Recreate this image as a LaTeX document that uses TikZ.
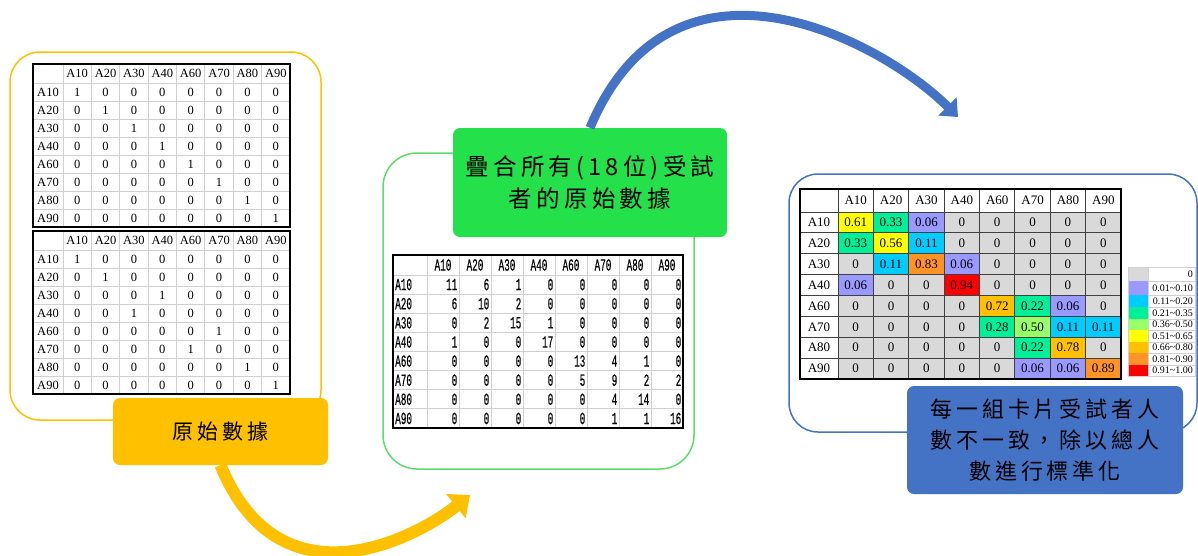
\documentclass[tikz,border=0pt]{standalone}
\usepackage{fontspec}
\setmainfont{Liberation Serif}
\newfontfamily\cjk[LetterSpace=18]{Noto Sans CJK TC}
\newfontfamily\tmono[FakeStretch=0.55,FakeBold=0.25]{Liberation Mono}
\usetikzlibrary{arrows.meta}
\definecolor{cgold}{HTML}{FFC000}
\definecolor{cgrn}{HTML}{24E04B}
\definecolor{cblu}{HTML}{4472C4}
\definecolor{cgray}{HTML}{D9D9D9}
\definecolor{cyel}{HTML}{FFFF00}
\definecolor{cspr}{HTML}{00F09A}
\definecolor{cpur}{HTML}{9999FF}
\definecolor{csky}{HTML}{00CCFF}
\definecolor{cora}{HTML}{FF9326}
\definecolor{cred}{HTML}{FF0000}
\definecolor{clgr}{HTML}{99FF66}
\definecolor{cgrid}{HTML}{D0D0D0}
\definecolor{goutline}{HTML}{5EDC6A}
\newcommand\lefttab[3]{%
\begin{scope}[shift={(0,#2)}]
\foreach \i in {0,...,8}{\draw[lgrid] ({63+\i*28.375},0) -- ({63+\i*28.375},163);}
\foreach \j in {0,...,8}{\draw[lgrid] (33,{19+\j*18}) -- (290,{19+\j*18});}
\draw[tborder] (33,0) rectangle (290,163);
\foreach \h [count=\c] in {A10,A20,A30,A40,A60,A70,A80,A90}{\node[lt] (#1h\c) at ({63+(\c-0.5)*28.375},9.5) {\h};}
\foreach \rl/\vals [count=\r] in {#3}{%
  \node[lt] (#1r\r) at (48,{19+(\r-0.5)*18}) {\rl};
  \foreach \v [count=\c] in \vals {\node[lt] (#1c\r-\c) at ({63+(\c-0.5)*28.375},{19+(\r-0.5)*18}) {\v};}
}
\end{scope}}
\begin{document}
\begin{tikzpicture}[x=1pt,y=-1pt,
  lt/.style={inner sep=0pt,font=\fontsize{12.5}{12.5}\selectfont},
  mt/.style={inner sep=0pt,font=\tmono\fontsize{17}{17}\selectfont},
  rt/.style={inner sep=0pt,font=\fontsize{13}{13}\selectfont},
  gt/.style={inner sep=0pt,font=\fontsize{10}{10}\selectfont},
  lgrid/.style={draw=cgrid,line width=0.8pt},
  rgrid/.style={draw=black!75,line width=0.8pt},
  tborder/.style={draw=black,line width=2pt},
  frame/.style={line width=1.5pt,rounded corners=30pt},
  lab/.style={rounded corners=7pt,inner sep=0pt,align=center,text=black},
  yarrow/.style={draw=cgold,line width=12pt,-{Triangle[length=18pt,width=30pt]}},
  barrow/.style={draw=cblu,line width=9pt,-{Triangle[length=15pt,width=25pt]}}
]
\useasboundingbox[fill=white] (0,0) rectangle (1198,555);
% frames
\draw[frame,draw=cgold] (10,52) rectangle (321,420);
\draw[frame,draw=goutline,rounded corners=34pt] (383,153) rectangle (694,469);
\draw[frame,draw=cblu,rounded corners=29pt] (789,174) rectangle (1197,432);
% left tables
\lefttab{ta}{64}{A10/{1,0,0,0,0,0,0,0},A20/{0,1,0,0,0,0,0,0},A30/{0,0,1,0,0,0,0,0},A40/{0,0,0,1,0,0,0,0},A60/{0,0,0,0,1,0,0,0},A70/{0,0,0,0,0,1,0,0},A80/{0,0,0,0,0,0,1,0},A90/{0,0,0,0,0,0,0,1}}
\lefttab{tb}{231}{A10/{1,0,0,0,0,0,0,0},A20/{0,1,0,0,0,0,0,0},A30/{0,0,0,1,0,0,0,0},A40/{0,0,1,0,0,0,0,0},A60/{0,0,0,0,0,1,0,0},A70/{0,0,0,0,1,0,0,0},A80/{0,0,0,0,0,0,1,0},A90/{0,0,0,0,0,0,0,1}}
% middle table
\foreach \i in {0,...,8}{\draw[lgrid] ({427+\i*32},255) -- ({427+\i*32},428);}
\foreach \j in {0,...,8}{\draw[lgrid] (393,{275+\j*19.125}) -- (683,{275+\j*19.125});}
\draw[tborder,line width=2.5pt] (393,255) rectangle (683,428);
\foreach \h [count=\c] in {A10,A20,A30,A40,A60,A70,A80,A90}{\node[mt] (mh\c) at ({427+(\c-0.5)*32},265) {\h};}
\foreach \rl/\vals [count=\r] in {A10/{11,6,1,0,0,0,0,0},A20/{6,10,2,0,0,0,0,0},A30/{0,2,15,1,0,0,0,0},A40/{1,0,0,17,0,0,0,0},A60/{0,0,0,0,13,4,1,0},A70/{0,0,0,0,5,9,2,2},A80/{0,0,0,0,0,4,14,0},A90/{0,0,0,0,0,1,1,16}}{%
  \node[mt,anchor=west] (mr\r) at (395,{275+(\r-0.5)*19.125}) {\rl};
  \foreach \v [count=\c] in \vals {\node[mt,anchor=east] (mc\r-\c) at ({427+\c*32-1.5},{275+(\r-0.5)*19.125}) {\v};}
}
% right table
\foreach \rl/\vals [count=\r] in {%
A10/{0.61/cyel,0.33/cspr,0.06/cpur,0/cgray,0/cgray,0/cgray,0/cgray,0/cgray},%
A20/{0.33/cspr,0.56/cyel,0.11/csky,0/cgray,0/cgray,0/cgray,0/cgray,0/cgray},%
A30/{0/cgray,0.11/csky,0.83/cora,0.06/cpur,0/cgray,0/cgray,0/cgray,0/cgray},%
A40/{0.06/cpur,0/cgray,0/cgray,0.94/cred,0/cgray,0/cgray,0/cgray,0/cgray},%
A60/{0/cgray,0/cgray,0/cgray,0/cgray,0.72/cgold,0.22/cspr,0.06/cpur,0/cgray},%
A70/{0/cgray,0/cgray,0/cgray,0/cgray,0.28/cspr,0.50/clgr,0.11/csky,0.11/csky},%
A80/{0/cgray,0/cgray,0/cgray,0/cgray,0/cgray,0.22/cspr,0.78/cgold,0/cgray},%
A90/{0/cgray,0/cgray,0/cgray,0/cgray,0/cgray,0.06/cpur,0.06/cpur,0.89/cora}}{%
  \node[rt] (rr\r) at (819,{212+(\r-0.5)*20.875}) {\rl};
  \foreach \v/\col [count=\c] in \vals {%
    \fill[\col] ({838+(\c-1)*35.375},{212+(\r-1)*20.875}) rectangle ++(35.375,20.875);
    \node[rt] (rc\r-\c) at ({838+(\c-0.5)*35.375},{212+(\r-0.5)*20.875}) {\v};}
}
\foreach \i in {0,...,8}{\draw[rgrid] ({838+\i*35.375},189) -- ({838+\i*35.375},379);}
\foreach \j in {0,...,8}{\draw[rgrid] (800,{212+\j*20.875}) -- (1121,{212+\j*20.875});}
\draw[tborder] (800,189) rectangle (1121,379);
\foreach \h [count=\c] in {A10,A20,A30,A40,A60,A70,A80,A90}{\node[rt] (rh\c) at ({838+(\c-0.5)*35.375},200.5) {\h};}
% legend
\foreach \ya/\yb/\col/\t [count=\k] in {267/281/cgray/0,281/295/cpur/0.01\textasciitilde0.10,295/307/csky/0.11\textasciitilde0.20,307/319/cspr/0.21\textasciitilde0.35,319/330/clgr/0.36\textasciitilde0.50,330/342/cyel/0.51\textasciitilde0.65,342/353/cgold/0.66\textasciitilde0.80,353/365/cora/0.81\textasciitilde0.90,365/376/cred/0.91\textasciitilde1.00}{%
  \fill[\col] (1128,\ya) rectangle (1148,\yb);
  \draw[lgrid] (1148,\ya) rectangle (1195,\yb);
  \node[gt,anchor=east] (lg\k) at (1193,{(\ya+\yb)/2}) {\t};
}
\draw[lgrid] (1128,267) rectangle (1195,376);
% labels
\node[lab,fill=cgold,minimum width=215pt,minimum height=67pt,font=\cjk\fontsize{21}{25}\selectfont] (ylab) at (220.5,431.5) {原始數據};
\node[lab,fill=cgrn,minimum width=274pt,minimum height=109pt,font=\cjk\fontsize{23.5}{32}\selectfont] (glab) at (590,182.5) {疊合所有(18位)受試\\者的原始數據};
\node[lab,fill=cblu,minimum width=276pt,minimum height=108pt,font=\cjk\fontsize{22}{31}\selectfont] (blab) at (1045,440) {每一組卡片受試者人\\數不一致，除以總人\\數進行標準化};
% arrows
\coordinate (yend) at (470,495);
\coordinate (bend) at (958,117);
\draw[yarrow] (ylab.south) .. controls (280,610) and (416,538) .. (yend);
\draw[barrow] (glab.north) .. controls (673,-71) and (882,41) .. (bend);
\end{tikzpicture}
\end{document}
